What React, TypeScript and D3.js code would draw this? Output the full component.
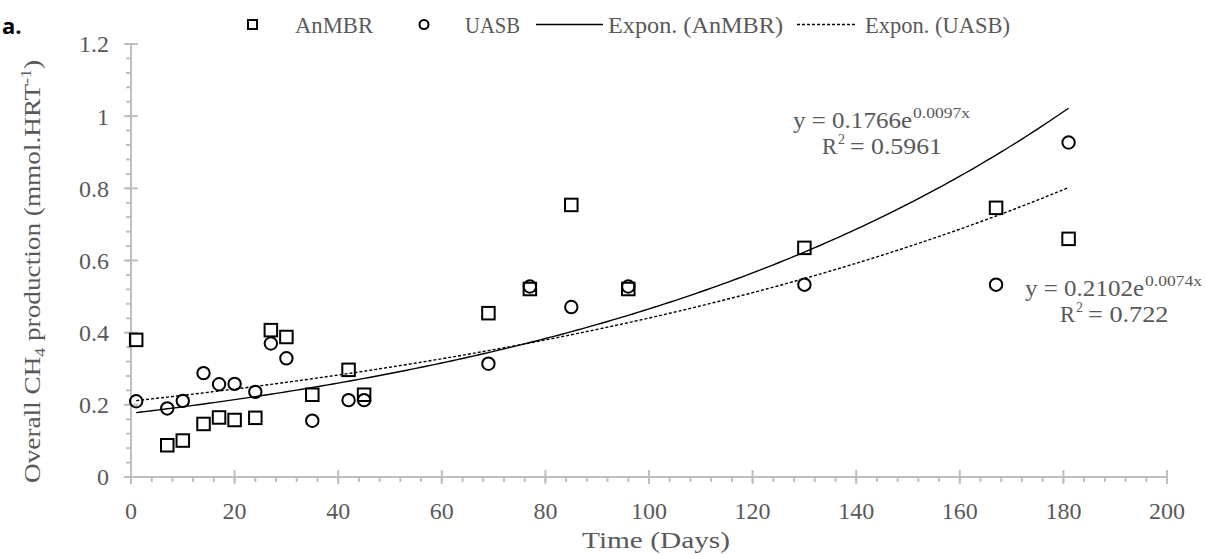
import * as d3 from "d3";

const anmbrDays = [1, 7, 10, 14, 17, 20, 24, 27, 30, 35, 42, 45, 69, 77, 85, 96, 130, 167, 181];
const anmbrCH4 = [0.38, 0.088, 0.101, 0.147, 0.165, 0.158, 0.164, 0.407, 0.388, 0.228, 0.297, 0.228, 0.454, 0.521, 0.754, 0.521, 0.635, 0.746, 0.66];

const uasbDays = [1, 7, 10, 14, 17, 20, 24, 27, 30, 35, 42, 45, 69, 77, 85, 96, 130, 167, 181];
const uasbCH4 = [0.21, 0.19, 0.211, 0.288, 0.257, 0.258, 0.236, 0.37, 0.329, 0.156, 0.213, 0.213, 0.314, 0.528, 0.471, 0.528, 0.533, 0.533, 0.927];

// Excel exponential trendlines as printed on the chart
const anmbrFit = { a: 0.1766, b: 0.0097, eq: "y = 0.1766e", exp: "0.0097x", r2: "= 0.5961" };
const uasbFit = { a: 0.2102, b: 0.0074, eq: "y = 0.2102e", exp: "0.0074x", r2: "= 0.722" };

const xTicks = [0, 20, 40, 60, 80, 100, 120, 140, 160, 180, 200];
const yTicks = [0, 0.2, 0.4, 0.6, 0.8, 1, 1.2];

const W = 1206;
const H = 555;
const margin = { top: 44, right: 39, bottom: 78, left: 131 };

const FONT = "'Liberation Serif', 'Times New Roman', serif";
const TEXT = "#595959";
const AXIS = "#bfbfbf";

const x = d3.scaleLinear().domain([0, 200]).range([margin.left, W - margin.right]);
const y = d3.scaleLinear().domain([0, 1.2]).range([H - margin.bottom, margin.top]);

const fitLine = (fit: { a: number; b: number }) => {
  const pts = d3.range(1, 181.01, 1).map((d) => [d, fit.a * Math.exp(fit.b * d)] as [number, number]);
  return d3
    .line<[number, number]>()
    .x((d) => x(d[0]))
    .y((d) => y(d[1]))(pts);
};

const xMinor = d3.range(0, 201, 4);
const yMinor = d3.range(0, 1.2001, 0.04);

// stretched text, the original font (Cambria) is wider than the serif we have
const T = ({ x, y, len, size = 23, children }: any) => (
  <text x={x} y={y} fontSize={size} textLength={len} lengthAdjust="spacingAndGlyphs">
    {children}
  </text>
);

// trendline equation block: main line + superscript, R² line
const Equation = ({ fit, x0, y0, r0 }: any) => (
  <g>
    <T x={x0} y={y0} len={119}>{fit.eq}</T>
    <T x={x0 + 120} y={y0 - 10} len={57} size={15}>{fit.exp}</T>
    <T x={r0} y={y0 + 26} len={15}>R</T>
    <T x={r0 + 16} y={y0 + 16} len={7} size={15}>2</T>
    <T x={r0 + 28} y={y0 + 26} len={fit.r2.length * 11.5}>{fit.r2}</T>
  </g>
);

export default function App() {
  const y0 = y(0);
  const sq = 12.5;
  return (
    <svg width={W} height={H} style={{ display: "block", position: "absolute", left: 0, top: 0 }}>
      <rect width={W} height={H} fill="#fff" />

      {/* panel label */}
      <text x={2} y={34} fontFamily="'Open Sans', sans-serif" fontWeight="bold" fontSize={22} fill="#000">
        a.
      </text>

      {/* axes */}
      <g stroke={AXIS} strokeWidth={2}>
        <line x1={x(0)} x2={x(200)} y1={y0} y2={y0} />
        <line x1={x(0)} x2={x(0)} y1={y(0)} y2={y(1.2)} />
        {xMinor.map((d) => (
          <line key={"xm" + d} x1={x(d)} x2={x(d)} y1={y0} y2={y0 + 5} />
        ))}
        {xTicks.map((d) => (
          <line key={"xt" + d} x1={x(d)} x2={x(d)} y1={y0 - 7} y2={y0 + 7} />
        ))}
        {yMinor.map((d, i) => (
          <line key={"ym" + i} x1={x(0) - 5} x2={x(0)} y1={y(d)} y2={y(d)} />
        ))}
        {yTicks.map((d) => (
          <line key={"yt" + d} x1={x(0) - 7} x2={x(0) + 7} y1={y(d)} y2={y(d)} />
        ))}
      </g>

      <g fontFamily={FONT} fontSize={24} fill={TEXT}>
        {xTicks.map((d) => (
          <text key={"xl" + d} x={x(d)} y={519} textAnchor="middle">
            {d}
          </text>
        ))}
        {yTicks.map((d) => (
          <text key={"yl" + d} x={109} y={y(d)} dy="0.35em" textAnchor="end">
            {d}
          </text>
        ))}
        <text x={582} y={548} fontSize={23} textLength={148} lengthAdjust="spacingAndGlyphs">
          Time (Days)
        </text>
        <text
          transform={`translate(40,483) rotate(-90)`}
          fontSize={23}
          textLength={423}
          lengthAdjust="spacingAndGlyphs"
        >
          Overall CH
          <tspan fontSize={15} dy={5}>4</tspan>
          <tspan dy={-5}> production (mmol.HRT</tspan>
          <tspan fontSize={15} dy={-9}>-1</tspan>
          <tspan dy={9}>)</tspan>
        </text>
      </g>

      {/* equations */}
      <g fontFamily={FONT} fill={TEXT}>
        <Equation fit={anmbrFit} x0={793} y0={128} r0={822} />
        <Equation fit={uasbFit} x0={1025} y0={296} r0={1060} />
      </g>

      {/* trendlines */}
      <path d={fitLine(anmbrFit) || ""} fill="none" stroke="#000" strokeWidth={1.4} />
      <path d={fitLine(uasbFit) || ""} fill="none" stroke="#000" strokeWidth={1.4} strokeDasharray="3,2" />

      {/* data markers */}
      <g fill="none" stroke="#000" strokeWidth={2}>
        {anmbrDays.map((d, i) => (
          <rect key={"s" + i} x={x(d) - sq / 2} y={y(anmbrCH4[i]) - sq / 2} width={sq} height={sq} />
        ))}
        {uasbDays.map((d, i) => (
          <circle key={"c" + i} cx={x(d)} cy={y(uasbCH4[i])} r={6.2} />
        ))}
      </g>

      {/* legend */}
      <g fontFamily={FONT} fill={TEXT}>
        <rect x={248} y={20} width={9} height={9} fill="none" stroke="#000" strokeWidth={2} />
        <T x={295} y={33} len={78}>AnMBR</T>
        <circle cx={424} cy={24.5} r={4.5} fill="none" stroke="#000" strokeWidth={2} />
        <T x={465} y={33} len={55}>UASB</T>
        <line x1={536} x2={603} y1={24.5} y2={24.5} stroke="#000" strokeWidth={1.4} />
        <T x={608} y={33} len={175}>Expon. (AnMBR)</T>
        <line x1={797} x2={856} y1={24.5} y2={24.5} stroke="#000" strokeWidth={1.4} strokeDasharray="3,2" />
        <T x={865} y={33} len={145}>Expon. (UASB)</T>
      </g>
    </svg>
  );
}
